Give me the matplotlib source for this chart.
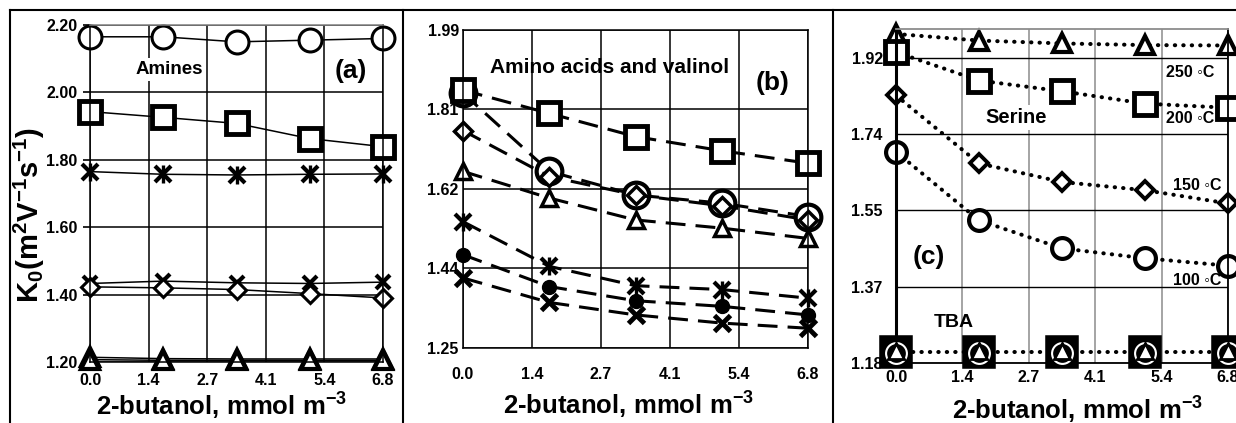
import numpy as np
import matplotlib.pyplot as plt
from matplotlib.lines import Line2D

plt.rcParams['font.family'] = ['Liberation Sans', 'DejaVu Sans']
plt.rcParams['font.weight'] = 'bold'
plt.rcParams['mathtext.fontset'] = 'custom'
plt.rcParams['mathtext.rm'] = 'Liberation Sans:bold'
plt.rcParams['mathtext.it'] = 'Liberation Sans:bold'
plt.rcParams['mathtext.bf'] = 'Liberation Sans:bold'

W, H = 1236, 423

# 2-butanol concentration, mmol m-3
butanol = [0.0, 1.7, 3.4, 5.1, 6.8]
x_ticks = np.linspace(0, 6.8, 6)
x_ticklabels = ['0.0', '1.4', '2.7', '4.1', '5.4', '6.8']

# (a) amines
a_circle = [2.165, 2.165, 2.150, 2.155, 2.160]
a_square = [1.943, 1.926, 1.908, 1.863, 1.839]
a_star = [1.765, 1.757, 1.755, 1.757, 1.758]
a_cross = [1.433, 1.440, 1.435, 1.433, 1.437]
a_diamond = [1.423, 1.420, 1.415, 1.403, 1.390]
a_tri1 = [1.214, 1.210, 1.209, 1.209, 1.209]
a_tri2 = [1.207, 1.205, 1.205, 1.205, 1.205]
a_yticks = [1.20, 1.40, 1.60, 1.80, 2.00, 2.20]
a_yticklabels = ['1.20', '1.40', '1.60', '1.80', '2.00', '2.20']

# (b) amino acids and valinol
b_square = [1.850, 1.796, 1.742, 1.709, 1.680]
b_circle = [1.843, 1.661, 1.606, 1.587, 1.556]
b_diamond = [1.756, 1.649, 1.606, 1.581, 1.548]
b_triangle = [1.661, 1.599, 1.548, 1.529, 1.505]
b_star = [1.544, 1.440, 1.395, 1.386, 1.366]
b_dot = [1.467, 1.393, 1.360, 1.347, 1.327]
b_cross = [1.413, 1.356, 1.327, 1.308, 1.296]
b_yticks = [1.25, 1.435, 1.62, 1.805, 1.99]
b_yticklabels = ['1.25', '1.44', '1.62', '1.81', '1.99']

# (c) serine at four temperatures and TBA
c_250 = [1.978, 1.962, 1.955, 1.951, 1.950]
c_200 = [1.934, 1.865, 1.839, 1.809, 1.799]
c_150 = [1.829, 1.664, 1.619, 1.599, 1.567]
c_100 = [1.692, 1.526, 1.458, 1.434, 1.416]
tba_square = [1.207, 1.207, 1.207, 1.207, 1.207]
tba_circle = [1.205, 1.205, 1.205, 1.205, 1.205]
tba_triangle = [1.208, 1.208, 1.208, 1.208, 1.208]
c_yticks = [1.18, 1.365, 1.55, 1.735, 1.92]
c_yticklabels = ['1.18', '1.37', '1.55', '1.74', '1.92']
temp_labels = ['250 \u25e6C', '200 \u25e6C', '150 \u25e6C', '100 \u25e6C']


def box(l, t, r, b):
    # pixel rectangle -> figure fraction [left, bottom, width, height]
    return [l / W, 1 - b / H, (r - l) / W, (b - t) / H]


def star(ax, y, ms, mew):
    ax.plot(butanol, y, ls='none', marker='x', ms=ms, mew=mew, color='k', clip_on=False, zorder=5)
    ax.plot(butanol, y, ls='none', marker='|', ms=ms * 1.1, mew=mew * 0.8, color='k', clip_on=False, zorder=5)


def setup(ax, ylim, yticks, ylabels, ypad, xpad, ticklen):
    ax.set_xlim(0, 6.8)
    ax.set_ylim(*ylim)
    ax.set_xticks(x_ticks)
    ax.set_xticklabels(x_ticklabels)
    ax.set_yticks(yticks)
    ax.set_yticklabels(ylabels)
    ax.tick_params(axis='y', direction='out', length=ticklen, width=1.2, pad=ypad, labelsize=11.5)
    ax.tick_params(axis='x', length=0, pad=xpad, labelsize=11.5)
    for lab in ax.get_xticklabels() + ax.get_yticklabels():
        lab.set_fontweight('bold')
    ax.set_axisbelow(True)


fig = plt.figure(figsize=(W / 100, H / 100), dpi=100)
bb = dict(facecolor='w', edgecolor='none', pad=2)

# ---- (a) ----
ax = fig.add_axes(box(90, 25, 383, 362))
setup(ax, (1.20, 2.20), a_yticks, a_yticklabels, 4, 8, 5)
ax.grid(True, color='k', lw=1.1)
for s in ax.spines.values():
    s.set_linewidth(1.1)
ax.spines['top'].set_color('#808080')
lk = dict(color='k', lw=1.1, clip_on=False)
ax.plot(butanol, a_circle, marker='o', ms=16.5, mew=2.2, mfc='w', **lk)
ax.plot(butanol, a_square, marker='s', ms=15.5, mew=3.5, mfc='w', **lk)
ax.plot(butanol, a_star, **lk)
star(ax, a_star, 12, 3)
ax.plot(butanol, a_tri1, marker='^', ms=12.5, mew=3, mfc='w', **lk)
ax.plot(butanol, a_tri2, marker='^', ms=12.5, mew=3, mfc='w', **lk)
ax.plot(butanol, a_cross, marker='x', ms=10, mew=3, **lk)
ax.plot(butanol, a_diamond, marker='D', ms=9, mew=2.2, mfc='w', **lk)
ax.text(1.83, 2.068, 'Amines', fontsize=13.5, fontweight='bold', ha='center', va='center', bbox=bb)
ax.text(6.06, 2.063, '(a)', fontsize=19, fontweight='bold', ha='center', va='center', bbox=bb)

# ---- (b) ----
ax = fig.add_axes(box(463, 30, 808, 348))
setup(ax, (1.25, 1.99), b_yticks, b_yticklabels, 3, 14, 0)
ax.grid(True, color='k', lw=1.1)
for s in ax.spines.values():
    s.set_linewidth(1.1)
dk = dict(color='k', lw=2.2, ls=(0, (6.5, 3.3)), clip_on=False)
ax.plot(butanol, b_cross, marker='x', ms=12, mew=3.5, **dk)
ax.plot(butanol, b_dot, marker='o', ms=10, mew=1, mfc='k', **dk)
ax.plot(butanol, b_star, **dk)
star(ax, b_star, 12, 3)
ax.plot(butanol, b_triangle, marker='^', ms=11.5, mew=2.5, mfc='w', **dk)
ax.plot(butanol, b_circle, marker='o', ms=18.5, mew=3, mfc='w', **dk)
ax.plot(butanol, b_diamond, marker='D', ms=9, mew=2.5, mfc='w', **dk)
ax.plot(butanol, b_square, marker='s', ms=15.5, mew=3.5, mfc='w', **dk)
ax.text(0.53, 1.902, 'Amino acids and valinol', fontsize=15, fontweight='bold', ha='left', va='center')
ax.text(6.11, 1.867, '(b)', fontsize=19, fontweight='bold', ha='center', va='center')

# ---- (c) ----
ax = fig.add_axes(box(896, 29, 1228, 363))
setup(ax, (1.18, 1.99), c_yticks, c_yticklabels, 9.5, 5, 0)
ax.xaxis.grid(True, color='#8c8c8c', lw=1.1)
ax.yaxis.grid(True, color='k', lw=1.0)
for s in ax.spines.values():
    s.set_linewidth(1.3)
ax.spines['left'].set_linewidth(2.2)
ax.spines['top'].set_color('#8c8c8c')
ok = dict(color='k', lw=2.9, ls=(0, (0.1, 2.0)), dash_capstyle='round', clip_on=False)
ax.plot(butanol, c_250, marker='^', ms=12.5, mew=3, mfc='w', **ok)
ax.plot(butanol, c_200, marker='s', ms=16, mew=3.5, mfc='w', **ok)
ax.plot(butanol, c_150, marker='D', ms=9, mew=2.8, mfc='w', **ok)
ax.plot(butanol, c_100, marker='o', ms=15, mew=3, mfc='w', **ok)
ax.plot(butanol, tba_square, marker='s', ms=20, mew=4, mfc='k', **ok)
ax.plot(butanol, tba_circle, ls='none', marker='o', ms=15, mew=1.5, mfc='none', mec='w', clip_on=False, zorder=4)
ax.plot(butanol, tba_triangle, ls='none', marker='^', ms=11.5, mew=2, mfc='w', mec='k', clip_on=False, zorder=5)
ax.text(2.46, 1.775, 'Serine', fontsize=14.5, fontweight='bold', ha='center', va='center', bbox=bb)
ax.text(0.68, 1.436, '(c)', fontsize=19, fontweight='bold', ha='center', va='center')
ax.text(1.19, 1.279, 'TBA', fontsize=14, fontweight='bold', ha='center', va='center')
for t, xv, yv in zip(temp_labels, [6.02, 6.02, 6.17, 6.17], [1.884, 1.773, 1.611, 1.381]):
    ax.text(xv, yv, t, fontsize=11.5, fontweight='bold', ha='center', va='center')

# axis titles
for cx, cy in ((221, 406), (628, 405), (1077, 410)):
    fig.text(cx / W, 1 - cy / H, r'2-butanol, mmol m$^{-3}$', fontsize=18.5, fontweight='bold',
             ha='center', va='center')
fig.text(29 / W, 1 - 215 / H, r'K$_0$(m$^2$V$^{-1}$s$^{-1}$)', fontsize=21, fontweight='bold',
         rotation=90, ha='center', va='center')

# table frame round the three panels
frame = dict(color='k', lw=1.5, transform=fig.transFigure)
fig.add_artist(Line2D([10 / W, 1], [1 - 10 / H, 1 - 10 / H], **frame))
for px in (10, 403, 833):
    fig.add_artist(Line2D([px / W, px / W], [0, 1 - 10 / H], **frame))

fig.savefig('out.png', dpi=100)
